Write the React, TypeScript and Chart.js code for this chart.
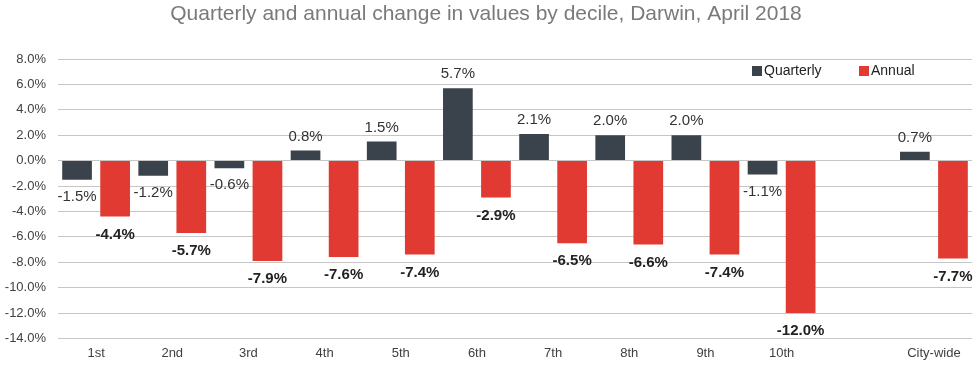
import React, { useEffect, useRef } from "react";
import { Chart, registerables } from "chart.js";

Chart.register(...registerables);

const categories = ["1st", "2nd", "3rd", "4th", "5th", "6th", "7th", "8th", "9th", "10th", "", "City-wide"];
const quarterly = [-1.5, -1.2, -0.6, 0.8, 1.5, 5.7, 2.1, 2.0, 2.0, -1.1, null, 0.7];
const annual = [-4.4, -5.7, -7.9, -7.6, -7.4, -2.9, -6.5, -6.6, -7.4, -12.0, null, -7.7];
const yTicks = [8, 6, 4, 2, 0, -2, -4, -6, -8, -10, -12, -14];

const titleText = "Quarterly and annual change in values by decile, Darwin, April 2018";
const QCOLOR = "#3a434b";
const ACOLOR = "#e03a33";

const labelPlugin = {
  id: "barLabels",
  afterDatasetsDraw(chart: any) {
    const ctx = chart.ctx;
    ctx.save();
    ctx.textAlign = "center";
    ctx.textBaseline = "middle";
    chart.data.datasets.forEach((ds: any, di: number) => {
      const meta = chart.getDatasetMeta(di);
      meta.data.forEach((el: any, i: number) => {
        const v = ds.data[i];
        if (v === null || v === undefined) return;
        const bold = di === 1;
        ctx.font = (bold ? "bold " : "") + "15px 'Liberation Sans', Arial, sans-serif";
        ctx.fillStyle = bold ? "#222222" : "#333333";
        const y = v >= 0 ? el.y - 14 : el.y + (bold ? 18 : 17);
        ctx.fillText(v.toFixed(1) + "%", el.x, y);
      });
    });
    ctx.restore();
  },
};

const titleLegendPlugin = {
  id: "titleLegend",
  afterDraw(chart: any) {
    const ctx = chart.ctx;
    const area = chart.chartArea;
    ctx.save();
    ctx.font = "21px 'Liberation Sans', Arial, sans-serif";
    ctx.fillStyle = "#7a7a7a";
    ctx.textAlign = "center";
    ctx.textBaseline = "middle";
    ctx.fillText(titleText, 486, 14);

    ctx.font = "14px 'Liberation Sans', Arial, sans-serif";
    ctx.textAlign = "left";
    const items = [
      { label: "Quarterly", color: QCOLOR, x: 752 },
      { label: "Annual", color: ACOLOR, x: 859 },
    ];
    const ly = area.top + 12;
    items.forEach((it) => {
      ctx.fillStyle = it.color;
      ctx.fillRect(it.x, ly - 5, 10, 10);
      ctx.fillStyle = "#222222";
      ctx.fillText(it.label, it.x + 12, ly);
    });
    ctx.restore();
  },
};

export default function App() {
  const ref = useRef<HTMLCanvasElement>(null);
  useEffect(() => {
    document.body.style.margin = "0";
    const chart = new Chart(ref.current!, {
      type: "bar",
      data: {
        labels: categories,
        datasets: [
          { label: "Quarterly", data: quarterly, backgroundColor: QCOLOR, categoryPercentage: 1.0, barPercentage: 0.78 },
          { label: "Annual", data: annual, backgroundColor: ACOLOR, categoryPercentage: 1.0, barPercentage: 0.78 },
        ],
      },
      options: {
        animation: false,
        responsive: false,
        maintainAspectRatio: false,
        layout: { padding: { top: 59, right: 8, bottom: 0, left: 0 } },
        plugins: {
          legend: { display: false },
          title: { display: false },
          tooltip: { enabled: false },
        },
        scales: {
          x: {
            grid: { display: false, drawTicks: false },
            border: { display: false },
            ticks: {
              color: "#404040",
              font: { size: 13, family: "'Liberation Sans', Arial, sans-serif" },
              padding: 7,
              maxRotation: 0,
              autoSkip: false,
            },
          },
          y: {
            min: -14,
            max: 8,
            afterBuildTicks(axis: any) {
              axis.ticks = yTicks.map((v) => ({ value: v }));
            },
            afterFit(axis: any) {
              axis.width = 58;
            },
            grid: { color: "#c6c6c6", lineWidth: 1, drawTicks: false },
            border: { display: false },
            ticks: {
              color: "#404040",
              font: { size: 13, family: "'Liberation Sans', Arial, sans-serif" },
              padding: 12,
              callback: (v: any) => Number(v).toFixed(1) + "%",
            },
          },
        },
      },
      plugins: [labelPlugin, titleLegendPlugin],
    });
    return () => chart.destroy();
  }, []);
  return (
    <div style={{ width: 980, height: 368 }}>
      <canvas ref={ref} width={980} height={368} style={{ display: "block" }} />
    </div>
  );
}
